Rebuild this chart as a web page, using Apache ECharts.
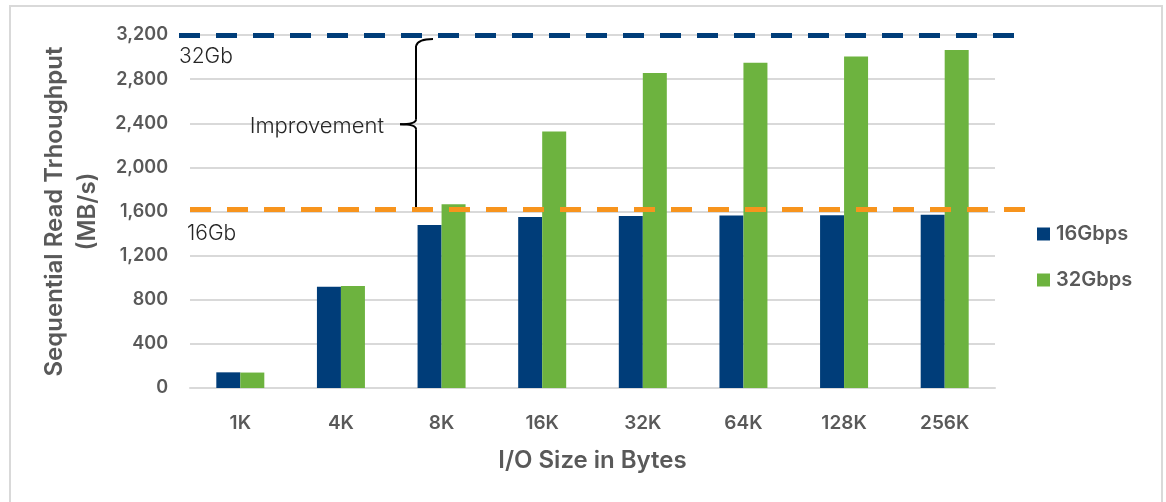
<!DOCTYPE html>
<html>
<head>
<meta charset="utf-8">
<script src="https://cdn.jsdelivr.net/npm/echarts@6/dist/echarts.min.js"></script>
<style>
  html, body { margin: 0; padding: 0; background: #fff; }
  #chart { width: 1166px; height: 502px; }
</style>
</head>
<body>
<div id="chart"></div>
<script>
const categories = ['1K', '4K', '8K', '16K', '32K', '64K', '128K', '256K'];
const gbps16 = [142, 918, 1478, 1550, 1560, 1563, 1565, 1570];
const gbps32 = [140, 924, 1665, 2325, 2856, 2948, 3006, 3064];
const limit32 = 3200;
const limit16 = 1620;

const FONT = 'Inter';
const GREY = '#595959';
const BLUE = '#003d79';
const GREEN = '#6db33f';
const ORANGE = '#f7941d';

const chart = echarts.init(document.getElementById('chart'));

chart.setOption({
  animation: false,
  grid: { left: 190, right: 171, top: 35, bottom: 114 },
  legend: {
    orient: 'vertical',
    left: 1037,
    top: 222,
    padding: 0,
    itemWidth: 13,
    itemHeight: 13,
    itemGap: 22,
    icon: 'rect',
    textStyle: { fontFamily: FONT, fontSize: 20, fontWeight: 600, color: GREY, lineHeight: 24, padding: [0, 0, 0, 1] },
    data: ['16Gbps', '32Gbps']
  },
  xAxis: {
    type: 'category',
    data: categories,
    axisTick: { show: false },
    axisLine: { lineStyle: { color: '#d9d9d9', width: 2 } },
    axisLabel: { fontFamily: FONT, fontSize: 19, fontWeight: 600, color: GREY, margin: 26 },
    name: 'I/O Size in Bytes',
    nameLocation: 'middle',
    nameGap: 61,
    nameTextStyle: { fontFamily: FONT, fontSize: 24, fontWeight: 600, color: GREY }
  },
  yAxis: {
    type: 'value',
    min: 0,
    max: 3200,
    interval: 400,
    axisLabel: { fontFamily: FONT, fontSize: 18, fontWeight: 600, color: GREY, margin: 22 },
    splitLine: { lineStyle: { color: '#d9d9d9', width: 2 } },
    name: 'Sequential Read Trhoughput\n(MB/s)',
    nameLocation: 'middle',
    nameGap: 86,
    nameTextStyle: { fontFamily: FONT, fontSize: 24, fontWeight: 600, color: GREY, lineHeight: 33 }
  },
  series: [
    {
      name: '16Gbps',
      type: 'bar',
      data: gbps16,
      barWidth: 24,
      barGap: '0%',
      itemStyle: { color: BLUE },
      markLine: {
        symbol: 'none',
        silent: true,
        z: 10,
        lineStyle: { color: BLUE, width: 5, type: [21, 16] },
        label: {
          position: 'insideStartBottom',
          distance: [0, 11],
          fontFamily: FONT, fontSize: 21, fontWeight: 300, color: '#262626',
          formatter: '32Gb'
        },
        data: [[{ x: 179, yAxis: limit32 }, { x: 1020, yAxis: limit32 }]]
      }
    },
    {
      name: '32Gbps',
      type: 'bar',
      data: gbps32,
      barWidth: 24,
      itemStyle: { color: GREEN },
      markLine: {
        symbol: 'none',
        silent: true,
        z: 10,
        lineStyle: { color: ORANGE, width: 5, type: [21, 16] },
        label: {
          position: 'insideStartBottom',
          distance: [-3, 14],
          fontFamily: FONT, fontSize: 21, fontWeight: 300, color: '#262626',
          formatter: '16Gb'
        },
        data: [[{ x: 190, yAxis: limit16 }, { x: 1030, yAxis: limit16 }]]
      }
    }
  ]
});

// brace between the two limits, placed through the value axis
const yTop = chart.convertToPixel({ yAxisIndex: 0 }, limit32) + 4;
const yBot = chart.convertToPixel({ yAxisIndex: 0 }, limit16);
const yMid = (yTop + yBot) / 2;
const bx = 416;
const braceStyle = { fill: 'none', stroke: '#000', lineWidth: 2 };

chart.setOption({
  graphic: [
    {
      type: 'rect',
      shape: { x: 10, y: 6, width: 1152, height: 540 },
      style: { fill: 'none', stroke: '#d9d9d9', lineWidth: 2 },
      silent: true
    },
    {
      type: 'bezierCurve',
      shape: { x1: bx + 17, y1: yTop, cpx1: bx + 2, cpy1: yTop, x2: bx, y2: yTop + 7 },
      style: braceStyle, z: 5
    },
    {
      type: 'line',
      shape: { x1: bx, y1: yTop + 7, x2: bx, y2: yMid - 5 },
      style: braceStyle, z: 5
    },
    {
      type: 'bezierCurve',
      shape: { x1: bx, y1: yMid - 5, cpx1: bx, cpy1: yMid, x2: bx - 16, y2: yMid },
      style: braceStyle, z: 5
    },
    {
      type: 'bezierCurve',
      shape: { x1: bx - 16, y1: yMid, cpx1: bx, cpy1: yMid, x2: bx, y2: yMid + 5 },
      style: braceStyle, z: 5
    },
    {
      type: 'line',
      shape: { x1: bx, y1: yMid + 5, x2: bx, y2: yBot },
      style: braceStyle, z: 5
    },
    {
      type: 'text',
      x: 384,
      y: yMid + 2,
      style: {
        text: 'Improvement',
        fontFamily: FONT, fontSize: 22, fontWeight: 300, fill: '#262626',
        align: 'right', verticalAlign: 'middle'
      },
      z: 5
    }
  ]
});
</script>
</body>
</html>
